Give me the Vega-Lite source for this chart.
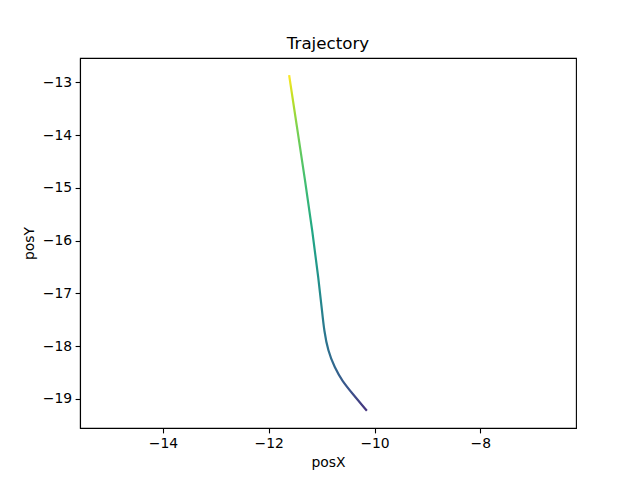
{
  "$schema": "https://vega.github.io/schema/vega-lite/v6.json",
  "autosize": "none",
  "width": 496,
  "height": 370,
  "padding": {"left": 80, "top": 58, "right": 64, "bottom": 52},
  "background": "white",
  "title": {
    "text": "Trajectory",
    "font": "DejaVu Sans",
    "fontSize": 16.7,
    "fontWeight": "normal",
    "color": "black",
    "anchor": "middle",
    "offset": 5
  },
  "config": {
    "view": {"stroke": "black", "strokeWidth": 1.1},
    "axis": {
      "grid": false,
      "domainColor": "black",
      "domainWidth": 1.1,
      "tickColor": "black",
      "tickWidth": 1.1,
      "tickSize": 4.9,
      "labelFont": "DejaVu Sans",
      "labelFontSize": 13.9,
      "labelColor": "black",
      "labelPadding": 3.5,
      "titleFont": "DejaVu Sans",
      "titleFontSize": 13.9,
      "titleFontWeight": "normal",
      "titleColor": "black"
    }
  },
  "data": {
    "values": [
      {"t": 0, "posX": -10.145, "posY": -19.228},
      {"t": 1, "posX": -10.414, "posY": -18.905},
      {"t": 2, "posX": -10.613, "posY": -18.658},
      {"t": 3, "posX": -10.754, "posY": -18.411},
      {"t": 4, "posX": -10.881, "posY": -18.089},
      {"t": 5, "posX": -10.953, "posY": -17.709},
      {"t": 6, "posX": -10.993, "posY": -17.329},
      {"t": 7, "posX": -11.055, "posY": -16.760},
      {"t": 8, "posX": -11.176, "posY": -15.810},
      {"t": 9, "posX": -11.313, "posY": -14.861},
      {"t": 10, "posX": -11.457, "posY": -13.912},
      {"t": 11, "posX": -11.615, "posY": -12.862}
    ]
  },
  "mark": {
    "type": "line",
    "strokeWidth": 2.2,
    "interpolate": "basis",
    "clip": true,
    "stroke": {
      "gradient": "linear",
      "x1": 0, "y1": 1, "x2": 0, "y2": 0,
      "stops": [
        {"offset": 0, "color": "#46337e"},
        {"offset": 0.06, "color": "#3b528b"},
        {"offset": 0.134, "color": "#31688e"},
        {"offset": 0.24, "color": "#2a788e"},
        {"offset": 0.39, "color": "#21918c"},
        {"offset": 0.54, "color": "#22a884"},
        {"offset": 0.69, "color": "#44bf70"},
        {"offset": 0.84, "color": "#7ad151"},
        {"offset": 0.93, "color": "#bddf26"},
        {"offset": 1, "color": "#fde725"}
      ]
    }
  },
  "encoding": {
    "x": {
      "field": "posX",
      "type": "quantitative",
      "title": "posX",
      "scale": {"domain": [-15.57, -6.19], "nice": false, "zero": false},
      "axis": {"values": [-14, -12, -10, -8], "titlePadding": 5}
    },
    "y": {
      "field": "posY",
      "type": "quantitative",
      "title": "posY",
      "scale": {"domain": [-19.554, -12.537], "nice": false, "zero": false},
      "axis": {"values": [-19, -18, -17, -16, -15, -14, -13], "titlePadding": 6}
    },
    "order": {"field": "t", "type": "quantitative"}
  }
}
